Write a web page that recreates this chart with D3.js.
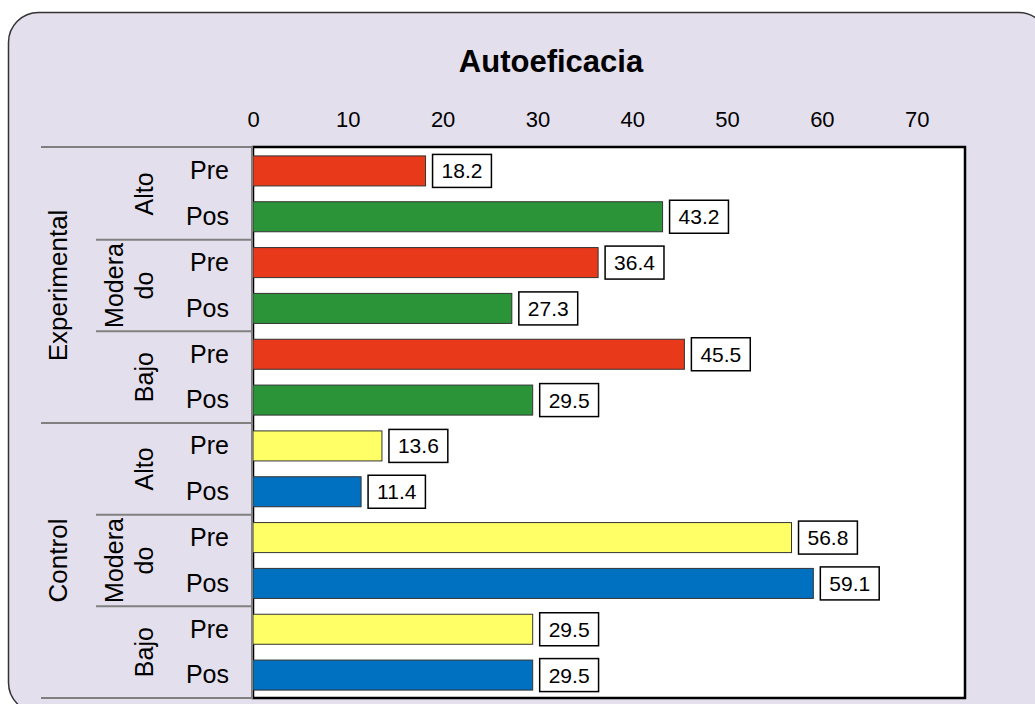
<!DOCTYPE html>
<html>
<head>
<meta charset="utf-8">
<script src="https://cdn.jsdelivr.net/npm/d3@7"></script>
<style>
  body { margin: 0; background: #fff; }
  text { font-family: Arial, "Liberation Sans", sans-serif; fill: #000; }
</style>
</head>
<body>
<script>
// datos del grafico
const grupos = ["Experimental", "Control"];
const niveles = ["Alto", "Moderado", "Bajo"];
const nivelesEtiqueta = [["Alto"], ["Modera", "do"], ["Bajo"]];
const momentos = ["Pre", "Pos"];
const valoresExperimental = [18.2, 43.2, 36.4, 27.3, 45.5, 29.5];
const valoresControl = [13.6, 11.4, 56.8, 59.1, 29.5, 29.5];
const xTicks = [0, 10, 20, 30, 40, 50, 60, 70];
const colores = {
  Experimental: { Pre: "#e8391a", Pos: "#2b9439" },
  Control: { Pre: "#ffff66", Pos: "#0070c0" }
};

const w = 1035, h = 704;
const pLeft = 253, pRight = 965, pTop = 147, pBottom = 698;

// filas en orden
const filas = [];
grupos.forEach((g, gi) => {
  const vals = gi === 0 ? valoresExperimental : valoresControl;
  niveles.forEach((n, ni) => {
    momentos.forEach((m, mi) => {
      filas.push({ grupo: g, nivel: n, ni: ni, momento: m, valor: vals[ni * 2 + mi], key: g + "|" + n + "|" + m });
    });
  });
});

const svg = d3.select("body").append("svg")
  .attr("width", w).attr("height", h);

// fondo redondeado
svg.append("rect")
  .attr("x", 8.5).attr("y", 12.5)
  .attr("width", 1040).attr("height", 700)
  .attr("rx", 30)
  .attr("fill", "#e4dfec")
  .attr("stroke", "#333").attr("stroke-width", 1.5);

svg.append("text")
  .attr("x", 551).attr("y", 72)
  .attr("text-anchor", "middle")
  .style("font-size", "31px").style("font-weight", "bold")
  .text("Autoeficacia");

const x = d3.scaleLinear().domain([0, 75]).range([pLeft, pLeft + 75 * 9.481]);
const y = d3.scaleBand().domain(filas.map(d => d.key))
  .range([pTop + 1, pBottom]).paddingInner(0.345).paddingOuter(0.1725);

// area del grafico
svg.append("rect")
  .attr("x", pLeft).attr("y", pTop)
  .attr("width", pRight - pLeft).attr("height", pBottom - pTop)
  .attr("fill", "#fff")
  .attr("stroke", "#000").attr("stroke-width", 2.5);

// eje superior
const xAxis = d3.axisTop(x).tickValues(xTicks).tickSize(0).tickPadding(20);
const gx = svg.append("g")
  .attr("transform", "translate(0," + pTop + ")")
  .call(xAxis);
gx.select(".domain").remove();
gx.attr("font-family", null).attr("font-size", null);
gx.selectAll("text").style("font-size", "22px");

// barras
svg.selectAll("rect.barra")
  .data(filas)
  .enter()
  .append("rect")
  .attr("class", "barra")
  .attr("x", x(0))
  .attr("y", d => y(d.key))
  .attr("width", d => x(d.valor) - x(0))
  .attr("height", y.bandwidth())
  .attr("fill", d => colores[d.grupo][d.momento])
  .attr("stroke", "#333").attr("stroke-width", 1);

// etiquetas de valor con recuadro
const etq = svg.selectAll("g.etq")
  .data(filas)
  .enter()
  .append("g")
  .attr("class", "etq");
etq.append("rect");
etq.append("text")
  .attr("x", d => x(d.valor) + 7 + 9)
  .attr("y", d => y(d.key) + y.bandwidth() / 2)
  .attr("dy", "0.36em")
  .style("font-size", "21px")
  .text(d => d.valor.toFixed(1));
etq.each(function(d) {
  const g = d3.select(this);
  const tw = g.select("text").node().getComputedTextLength();
  g.select("rect")
    .attr("x", x(d.valor) + 7)
    .attr("y", y(d.key) + y.bandwidth() / 2 - 16.5)
    .attr("width", tw + 18)
    .attr("height", 33)
    .attr("fill", "#fff")
    .attr("stroke", "#000").attr("stroke-width", 1.5);
});

// eje de categorias jerarquico
const gris = "#808080";
const ax = svg.append("g");
const yTop = k => y(k) - y.step() * y.paddingInner() / 2;
const yBot = k => y(k) + y.bandwidth() + y.step() * y.paddingInner() / 2;

ax.append("line")
  .attr("x1", pLeft - 1).attr("x2", pLeft - 1)
  .attr("y1", pTop).attr("y2", pBottom)
  .attr("stroke", gris).attr("stroke-width", 2);
ax.append("line")
  .attr("x1", 41).attr("x2", pLeft)
  .attr("y1", pTop).attr("y2", pTop)
  .attr("stroke", gris).attr("stroke-width", 2);

grupos.forEach(g => {
  const fg = filas.filter(d => d.grupo === g);
  const y0 = yTop(fg[0].key), y1 = yBot(fg[fg.length - 1].key);
  ax.append("line")
    .attr("x1", 41).attr("x2", pLeft)
    .attr("y1", y1).attr("y2", y1)
    .attr("stroke", gris).attr("stroke-width", 2);
  ax.append("text")
    .attr("transform", "translate(67," + (y0 + y1) / 2 + ") rotate(-90)")
    .attr("text-anchor", "middle")
    .style("font-size", "26px")
    .text(g);

  niveles.forEach((n, ni) => {
    const fn = fg.filter(d => d.nivel === n);
    const a = yTop(fn[0].key), b = yBot(fn[fn.length - 1].key);
    if (ni < niveles.length - 1) {
      ax.append("line")
        .attr("x1", 96).attr("x2", pLeft)
        .attr("y1", b).attr("y2", b)
        .attr("stroke", gris).attr("stroke-width", 2);
    }
    const lineas = nivelesEtiqueta[ni];
    lineas.forEach((l, li) => {
      const bx = 153 - 30 * (lineas.length - 1 - li);
      ax.append("text")
        .attr("transform", "translate(" + bx + "," + (a + b) / 2 + ") rotate(-90)")
        .attr("text-anchor", "middle")
        .style("font-size", "25px")
        .text(l);
    });
  });
});

ax.selectAll("text.mom")
  .data(filas)
  .enter()
  .append("text")
  .attr("class", "mom")
  .attr("x", 229)
  .attr("y", d => y(d.key) + y.bandwidth() / 2)
  .attr("dy", "0.33em")
  .attr("text-anchor", "end")
  .style("font-size", "25px")
  .text(d => d.momento);
</script>
</body>
</html>
